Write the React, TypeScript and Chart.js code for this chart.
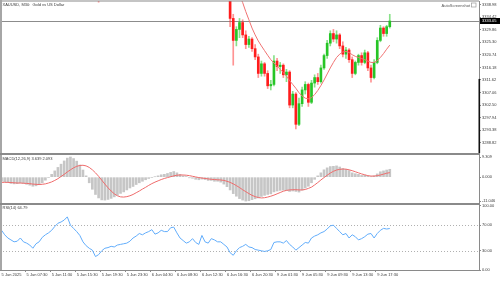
import React, { useEffect, useRef } from 'react';
import { Chart, registerables } from 'chart.js';

Chart.register(...registerables);

const FONT = '"Liberation Sans", Arial, sans-serif';
const TITLE = 'XAUUSD, M30:  Gold vs US Dollar';
const WATERMARK = 'AutoScreenshot';

const X_TICK_LABELS = [
  '5 Jun 2025', '5 Jun 07:30', '5 Jun 11:30', '5 Jun 15:30', '5 Jun 19:30', '5 Jun 23:30',
  '6 Jun 04:30', '6 Jun 08:30', '6 Jun 12:30', '6 Jun 16:30', '6 Jun 20:30',
  '9 Jun 01:30', '9 Jun 05:30', '9 Jun 09:30', '9 Jun 13:30', '9 Jun 17:30',
];
const BARS_PER_TICK = 8;
const SLOT_COUNT = 153;

const OPEN = [
  3374.0, 3372.5, 3370.8, 3372.9, 3371.2, 3368.6, 3369.4, 3366.9, 3367.8, 3364.5,
  3362.3, 3365.1, 3363.0, 3366.2, 3364.7, 3368.4, 3372.1, 3376.3, 3380.9, 3385.2,
  3388.6, 3394.0, 3399.8, 3389.5, 3384.1, 3378.6, 3372.0, 3366.3, 3360.2, 3354.5,
  3350.1, 3345.2, 3344.0, 3348.9, 3351.7, 3350.2, 3353.1, 3351.4, 3354.0, 3356.2,
  3352.3, 3355.1, 3358.4, 3356.0, 3360.3, 3359.1, 3362.0, 3361.2, 3364.5, 3366.3,
  3363.1, 3365.4, 3368.2, 3367.0, 3370.1, 3373.4, 3375.2, 3369.0, 3366.8, 3364.1,
  3366.0, 3363.2, 3365.3, 3362.1, 3364.0, 3366.2, 3363.4, 3360.1, 3362.3, 3358.4,
  3361.0, 3355.8, 3350.2, 3347.1, 3334.0, 3326.0, 3330.0, 3332.5, 3328.0, 3324.5,
  3326.5, 3323.0, 3320.0, 3314.0, 3317.5, 3314.0, 3309.5, 3310.0, 3318.5, 3316.5,
  3317.0, 3313.5, 3314.5, 3302.5, 3306.5, 3295.5, 3303.0, 3308.0, 3310.0, 3303.5,
  3310.5, 3312.5, 3311.0, 3316.0, 3320.5, 3325.0, 3328.5, 3326.5, 3328.0, 3324.0,
  3321.0, 3322.5, 3319.0, 3314.0, 3318.0, 3320.5, 3318.0, 3321.5, 3316.0, 3312.5,
  3318.0, 3326.0, 3330.5, 3328.5, 3331.0,
];
const HIGH = [
  3375.2, 3373.4, 3373.8, 3374.0, 3372.0, 3370.6, 3370.1, 3368.9, 3368.3, 3365.4,
  3366.0, 3365.9, 3367.1, 3367.0, 3369.5, 3373.0, 3377.4, 3382.2, 3386.8, 3390.1,
  3395.7, 3403.4, 3401.2, 3391.0, 3386.3, 3380.0, 3373.8, 3368.1, 3362.0, 3356.4,
  3351.3, 3347.8, 3350.2, 3353.0, 3352.9, 3354.4, 3354.0, 3355.3, 3357.5, 3357.0,
  3356.2, 3359.6, 3359.2, 3361.4, 3361.5, 3363.2, 3363.0, 3365.7, 3367.4, 3367.0,
  3366.5, 3369.3, 3369.1, 3371.2, 3374.6, 3376.9, 3376.0, 3370.2, 3367.6, 3367.1,
  3366.8, 3366.4, 3366.0, 3365.1, 3367.3, 3367.0, 3364.1, 3363.4, 3363.0, 3362.2,
  3375.4, 3357.2, 3352.0, 3348.5, 3335.5, 3331.0, 3334.0, 3333.5, 3329.5, 3327.5,
  3327.0, 3324.5, 3321.0, 3318.5, 3318.0, 3315.0, 3311.5, 3320.5, 3319.5, 3318.0,
  3317.5, 3315.5, 3315.0, 3307.5, 3307.0, 3305.0, 3309.0, 3311.0, 3310.5, 3311.5,
  3313.5, 3314.0, 3317.0, 3321.0, 3326.0, 3329.5, 3330.0, 3329.5, 3328.5, 3325.5,
  3323.5, 3323.0, 3320.0, 3318.5, 3321.0, 3321.5, 3322.5, 3322.0, 3317.0, 3319.0,
  3327.0, 3331.5, 3331.0, 3331.5, 3335.5,
];
const LOW = [
  3371.6, 3369.9, 3370.1, 3370.5, 3367.5, 3367.8, 3365.8, 3366.0, 3363.6, 3361.2,
  3361.5, 3362.2, 3362.5, 3363.8, 3364.0, 3367.6, 3371.3, 3375.5, 3379.7, 3383.9,
  3387.4, 3392.8, 3387.6, 3382.4, 3376.9, 3370.4, 3364.7, 3358.5, 3352.9, 3348.3,
  3343.6, 3339.9, 3343.1, 3347.6, 3348.8, 3349.5, 3350.3, 3350.6, 3353.2, 3351.1,
  3351.5, 3354.3, 3355.0, 3355.2, 3358.0, 3358.3, 3360.1, 3360.5, 3363.6, 3362.0,
  3362.4, 3364.6, 3365.9, 3366.3, 3369.4, 3372.6, 3368.1, 3365.7, 3363.0, 3363.3,
  3362.1, 3362.5, 3361.0, 3361.4, 3363.2, 3362.5, 3359.0, 3359.3, 3357.3, 3357.6,
  3354.6, 3348.9, 3345.8, 3331.0, 3317.0, 3324.0, 3327.0, 3327.0, 3323.0, 3323.5,
  3322.0, 3319.0, 3312.5, 3313.0, 3313.0, 3308.5, 3308.0, 3309.5, 3315.0, 3314.0,
  3312.5, 3311.0, 3301.5, 3301.5, 3293.8, 3295.0, 3302.0, 3306.5, 3302.0, 3303.0,
  3309.0, 3310.0, 3310.5, 3315.5, 3319.5, 3324.0, 3325.5, 3325.0, 3323.0, 3320.0,
  3319.5, 3318.0, 3312.5, 3313.5, 3317.0, 3317.0, 3317.5, 3315.0, 3310.8, 3312.0,
  3317.5, 3325.5, 3327.5, 3327.5, 3330.5,
];
const CLOSE = [
  3372.5, 3370.8, 3372.9, 3371.2, 3368.6, 3369.4, 3366.9, 3367.8, 3364.5, 3362.3,
  3365.1, 3363.0, 3366.2, 3364.7, 3368.4, 3372.1, 3376.3, 3380.9, 3385.2, 3388.6,
  3394.0, 3399.8, 3389.5, 3384.1, 3378.6, 3372.0, 3366.3, 3360.2, 3354.5, 3350.1,
  3345.2, 3344.0, 3348.9, 3351.7, 3350.2, 3353.1, 3351.4, 3354.0, 3356.2, 3352.3,
  3355.1, 3358.4, 3356.0, 3360.3, 3359.1, 3362.0, 3361.2, 3364.5, 3366.3, 3363.1,
  3365.4, 3368.2, 3367.0, 3370.1, 3373.4, 3375.2, 3369.0, 3366.8, 3364.1, 3366.0,
  3363.2, 3365.3, 3362.1, 3364.0, 3366.2, 3363.4, 3360.1, 3362.3, 3358.4, 3361.0,
  3355.8, 3350.2, 3347.1, 3334.0, 3326.0, 3330.0, 3332.5, 3328.0, 3324.5, 3326.5,
  3323.0, 3320.0, 3314.0, 3317.5, 3314.0, 3309.5, 3310.0, 3318.5, 3316.5, 3317.0,
  3313.5, 3314.5, 3302.5, 3306.5, 3295.5, 3303.0, 3308.0, 3310.0, 3303.5, 3310.5,
  3312.5, 3311.0, 3316.0, 3320.5, 3325.0, 3328.5, 3326.5, 3328.0, 3324.0, 3321.0,
  3322.5, 3319.0, 3314.0, 3318.0, 3320.5, 3318.0, 3321.5, 3316.0, 3312.5, 3318.0,
  3326.0, 3330.5, 3328.5, 3331.0, 3333.05,
];
const MA = [
  3377.0, 3376.6, 3376.2, 3375.7, 3375.1, 3374.5, 3373.8, 3373.1, 3372.3, 3371.4,
  3370.7, 3370.0, 3369.5, 3369.0, 3368.8, 3368.9, 3369.3, 3369.9, 3370.8, 3371.8,
  3373.0, 3374.6, 3375.6, 3376.5, 3377.1, 3377.4, 3377.4, 3377.1, 3376.5, 3375.6,
  3374.4, 3373.1, 3372.0, 3370.9, 3369.6, 3368.4, 3367.1, 3365.6, 3364.0, 3362.2,
  3360.0, 3358.0, 3356.2, 3355.0, 3354.2, 3353.8, 3353.8, 3354.2, 3354.8, 3355.5,
  3356.3, 3357.2, 3358.0, 3358.9, 3360.0, 3361.1, 3362.0, 3362.7, 3363.3, 3363.9,
  3364.3, 3364.7, 3365.0, 3365.2, 3365.3, 3365.0, 3364.5, 3364.0, 3363.3, 3362.6,
  3361.6, 3359.8, 3357.0, 3353.2, 3348.8, 3345.2, 3342.3, 3339.8, 3336.5, 3333.5,
  3330.5, 3328.0, 3325.8, 3324.0, 3322.3, 3320.6, 3319.0, 3317.8, 3316.6, 3315.5,
  3314.3, 3313.0, 3311.4, 3310.0, 3308.6, 3307.0, 3305.8, 3305.0, 3304.8, 3305.2,
  3306.3, 3307.8, 3309.6, 3311.6, 3313.8, 3316.0, 3318.0, 3319.8, 3321.0, 3321.8,
  3322.0, 3321.6, 3320.8, 3320.2, 3319.8, 3319.4, 3319.0, 3318.5, 3318.0, 3318.0,
  3318.6, 3319.8, 3321.2, 3322.8, 3324.3,
];
const MACD_MAIN = [
  -1.8, -2.1, -2.5, -2.9, -3.1, -3.0, -2.7, -2.9, -3.3, -3.7,
  -4.2, -4.0, -3.5, -2.6, -1.4, -0.2, 1.3, 2.9, 4.5, 6.0,
  7.5, 8.8, 9.309, 8.6, 7.4, 5.6, 3.3, 0.6, -2.6, -5.6,
  -8.0, -9.6, -10.5, -10.6, -10.3, -9.8, -9.1, -8.3, -7.5, -6.8,
  -5.9, -5.0, -4.3, -3.4, -2.6, -1.9, -1.2, -0.6, -0.2, 0.2,
  0.6, 1.1, 1.3, 1.7, 2.2, 2.6, 2.0, 1.3, 0.6, 0.3,
  -0.3, -0.5, -1.0, -1.2, -0.9, -1.1, -1.5, -1.5, -1.9, -1.9,
  -2.3, -3.2, -4.4, -5.9, -7.6, -8.8, -9.9, -10.6, -11.046, -10.9,
  -10.4, -10.0, -9.6, -8.9, -8.4, -8.0, -7.7, -6.8, -6.4, -6.1,
  -6.0, -6.2, -6.6, -6.4, -6.6, -6.9, -6.0, -5.0, -4.2, -2.6,
  -1.0, 0.6, 2.0, 3.4, 4.3, 4.9, 5.0, 5.2, 4.7, 4.0,
  3.6, 3.0, 2.0, 1.6, 1.3, 0.8, 0.9, 0.5, 0.2, 0.6,
  1.5, 2.5, 2.9, 3.3, 3.639,
];
const MACD_SIGNAL = [
  -2.4, -2.4, -2.4, -2.5, -2.6, -2.7, -2.7, -2.8, -2.9, -3.0,
  -3.2, -3.3, -3.4, -3.3, -3.1, -2.7, -2.2, -1.5, -0.7, 0.3,
  1.3, 2.4, 3.4, 4.3, 5.0, 5.4, 5.5, 5.2, 4.5, 3.4,
  2.0, 0.4, -1.4, -3.2, -4.9, -6.4, -7.7, -8.6, -9.1, -9.2,
  -9.0, -8.6, -8.0, -7.2, -6.4, -5.5, -4.7, -3.8, -3.0, -2.3,
  -1.7, -1.1, -0.6, -0.2, 0.2, 0.6, 0.9, 1.0, 1.0, 0.9,
  0.7, 0.4, 0.1, -0.2, -0.4, -0.6, -0.8, -1.0, -1.1, -1.2,
  -1.3, -1.5, -1.9, -2.4, -3.1, -3.9, -4.8, -5.8, -6.7, -7.6,
  -8.4, -9.0, -9.4, -9.6, -9.5, -9.2, -8.8, -8.3, -7.7, -7.1,
  -6.5, -6.1, -5.9, -5.8, -5.8, -5.9, -5.9, -5.7, -5.2, -4.6,
  -3.6, -2.5, -1.3, -0.2, 0.9, 1.9, 2.7, 3.3, 3.6, 3.75,
  3.7, 3.4, 3.0, 2.5, 2.0, 1.5, 1.1, 0.7, 0.5, 0.5,
  0.7, 1.0, 1.4, 1.8, 2.093,
];
const RSI = [
  62, 55, 50, 47, 44, 45, 50, 44, 42, 39,
  34, 41, 44, 51, 55, 58, 62, 68, 73, 75,
  78, 83, 70, 65, 60, 54, 44, 38, 34, 31,
  21, 24, 30, 34, 35, 37, 36, 39, 40, 41,
  42, 45, 50, 53, 57, 55, 58, 60, 63, 56,
  58, 62, 60, 60, 66, 67, 58, 50, 46, 42,
  44, 49, 43, 40, 54, 44, 42, 49, 47, 44,
  44, 40, 36, 27, 23, 30, 35, 37, 40, 36,
  35, 32, 31, 30, 29, 30, 32, 43, 44, 44,
  42, 46, 40, 36, 31, 35, 39, 43, 42, 50,
  53, 55, 58, 60, 64, 69, 70, 65, 60, 55,
  57, 50, 55, 52, 47, 49, 52, 56, 57, 50,
  57, 62, 65, 64, 64.79,
];

const PRICE_TICKS = [3338.98, 3334.42, 3329.86, 3325.3, 3320.74, 3316.18, 3311.62, 3307.06, 3302.5, 3297.94, 3293.38, 3288.82];
const MACD_TICKS = [9.309, 0, -11.046];
const RSI_TICKS = [100, 70, 30, 0];
const RSI_LEVELS = [70, 30];
const PRICE_MIN = 3284.71;
const PRICE_MAX = 3340.33;
const MACD_MIN = -12.4;
const MACD_MAX = 10.7;
const RSI_MIN = 0;
const RSI_MAX = 103.1;
const AXIS_MARK_FROM = 3312.0;

const BULL = '#26c526';
const BEAR = '#ff1c1c';
const BULL_WICK = 'rgba(40,200,40,0.55)';
const BEAR_WICK = 'rgba(255,40,40,0.5)';
const FRAME = '#8a8a8a';
const TEXT = '#3a3a3a';

const decorPlugin = {
  id: 'mtDecor',
  beforeDatasetsDraw(chart: any) {
    const { ctx, chartArea, scales } = chart;
    ctx.save();
    ctx.lineWidth = 1;
    ctx.strokeStyle = '#b0b0b0';
    ctx.setLineDash([1, 2]);
    RSI_LEVELS.forEach((lv) => {
      const py = Math.round(scales.yRsi.getPixelForValue(lv)) + 0.5;
      ctx.beginPath();
      ctx.moveTo(chartArea.left, py);
      ctx.lineTo(chartArea.right, py);
      ctx.stroke();
    });
    ctx.setLineDash([]);
    const last = CLOSE[CLOSE.length - 1];
    const pp = Math.round(scales.y.getPixelForValue(last)) + 0.5;
    ctx.strokeStyle = '#8c8c8c';
    ctx.beginPath();
    ctx.moveTo(chartArea.left, pp);
    ctx.lineTo(chartArea.right, pp);
    ctx.stroke();
    ctx.restore();
  },
  afterDraw(chart: any) {
    const { ctx, chartArea, scales } = chart;
    const right = chartArea.right;
    ctx.save();
    ctx.fillStyle = FRAME;
    ctx.fillRect(0, chartArea.top - 0.5, right, 1);
    ctx.fillStyle = '#a6a6a6';
    ctx.fillRect(0, 0, 2, chartArea.bottom);
    ctx.fillStyle = FRAME;
    ctx.fillRect(0, scales.y.bottom - 1, right, 2);
    ctx.fillRect(0, scales.yMacd.bottom - 1, right, 2);

    const markTop = scales.y.getPixelForValue(AXIS_MARK_FROM);
    ctx.fillStyle = '#111';
    ctx.fillRect(right - 0.5, markTop, 1.6, scales.y.bottom - 1 - markTop);

    const last = CLOSE[CLOSE.length - 1];
    const pp = Math.round(scales.y.getPixelForValue(last));
    ctx.fillStyle = '#000';
    ctx.fillRect(right + 1, pp - 3, 500 - right - 1, 6);
    ctx.fillStyle = '#fff';
    ctx.font = `4px ${FONT}`;
    ctx.textBaseline = 'middle';
    ctx.textAlign = 'left';
    ctx.fillText(last.toFixed(2), right + 3, pp + 0.3);

    ctx.fillStyle = TEXT;
    ctx.fillText(TITLE, 2.5, 4.5);
    ctx.fillText(
      `MACD(12,26,9) ${MACD_MAIN[MACD_MAIN.length - 1].toFixed(3)} ${MACD_SIGNAL[MACD_SIGNAL.length - 1].toFixed(3)}`,
      2.5,
      scales.yMacd.top + 4.5
    );
    ctx.fillText(`RSI(14) ${RSI[RSI.length - 1].toFixed(2)}`, 2.5, scales.yRsi.top + 3.5);
    ctx.fillStyle = '#555';
    ctx.textAlign = 'right';
    ctx.fillText(WATERMARK, right - 9, 5.5);
    ctx.strokeStyle = '#9a9a9a';
    ctx.lineWidth = 0.7;
    ctx.strokeRect(right - 7.5, 3, 4.5, 4);
    ctx.restore();
  },
};

function yAxis(stackWeight: number, min: number, max: number, ticks: number[], digits: number) {
  return {
    type: 'linear',
    position: 'right',
    stack: 'panes',
    stackWeight,
    min,
    max,
    offset: false,
    grid: { display: true, drawOnChartArea: false, drawTicks: true, tickLength: 2, tickColor: FRAME },
    border: { display: true, color: FRAME, width: 1 },
    ticks: {
      autoSkip: false,
      padding: 1,
      color: TEXT,
      font: { family: FONT, size: 4 },
      callback: (v: any) => Number(v).toFixed(digits),
    },
    afterBuildTicks: (s: any) => {
      s.ticks = ticks.map((value) => ({ value }));
    },
    afterFit: (s: any) => {
      s.width = 21;
      s.paddingTop = 0;
      s.paddingBottom = 0;
    },
  };
}

export default function App() {
  const ref = useRef<HTMLCanvasElement>(null);

  useEffect(() => {
    document.body.style.margin = '0';
    const canvas = ref.current;
    if (!canvas) return;

    const xLabels = Array.from({ length: SLOT_COUNT }, (_, i) =>
      i % BARS_PER_TICK === 0 && X_TICK_LABELS[i / BARS_PER_TICK] ? X_TICK_LABELS[i / BARS_PER_TICK] : ''
    );
    const isBull = OPEN.map((o, i) => CLOSE[i] >= o);

    const chart = new Chart(canvas, {
      type: 'bar',
      data: {
        labels: xLabels,
        datasets: [
          {
            type: 'line',
            label: 'MA',
            data: MA,
            yAxisID: 'y',
            borderColor: '#f07272',
            borderWidth: 1,
            pointRadius: 0,
            tension: 0,
            clip: 0,
          },
          {
            type: 'bar',
            label: 'Body',
            data: OPEN.map((o, i) => [o, CLOSE[i]]),
            yAxisID: 'y',
            backgroundColor: isBull.map((b) => (b ? BULL : BEAR)),
            barThickness: 2,
            grouped: false,
            minBarLength: 1,
            borderWidth: 0,
            clip: 0,
          },
          {
            type: 'bar',
            label: 'Wick',
            data: LOW.map((l, i) => [l, HIGH[i]]),
            yAxisID: 'y',
            backgroundColor: isBull.map((b) => (b ? BULL_WICK : BEAR_WICK)),
            barThickness: 1,
            grouped: false,
            borderWidth: 0,
            clip: 0,
          },
          {
            type: 'line',
            label: 'Signal',
            data: MACD_SIGNAL,
            yAxisID: 'yMacd',
            borderColor: '#ef6b6b',
            borderWidth: 1,
            pointRadius: 0,
            tension: 0,
            clip: 0,
          },
          {
            type: 'bar',
            label: 'MACD',
            data: MACD_MAIN,
            yAxisID: 'yMacd',
            backgroundColor: '#c6c6c6',
            barThickness: 2,
            grouped: false,
            borderWidth: 0,
            clip: 0,
          },
          {
            type: 'line',
            label: 'RSI',
            data: RSI,
            yAxisID: 'yRsi',
            borderColor: '#62adfb',
            borderWidth: 1,
            pointRadius: 0,
            tension: 0,
            clip: 0,
          },
        ] as any,
      },
      options: {
        responsive: false,
        maintainAspectRatio: false,
        animation: false,
        events: [],
        layout: { padding: { top: 1, left: 0, right: 0, bottom: 0 } },
        plugins: {
          legend: { display: false },
          tooltip: { enabled: false },
          title: { display: false },
        },
        scales: {
          x: {
            type: 'category',
            offset: true,
            grid: {
              display: true,
              drawOnChartArea: false,
              drawTicks: true,
              tickLength: 2,
              tickColor: (c: any) => (c.tick && c.tick.label ? FRAME : 'rgba(0,0,0,0)'),
            },
            border: { display: true, color: FRAME, width: 1 },
            ticks: {
              autoSkip: false,
              maxRotation: 0,
              minRotation: 0,
              align: 'start',
              padding: 0,
              color: TEXT,
              font: { family: FONT, size: 4 },
            },
            afterFit: (s: any) => {
              s.height = 11;
              s.paddingLeft = 0;
              s.paddingRight = 0;
            },
          },
          y: yAxis(153, PRICE_MIN, PRICE_MAX, PRICE_TICKS, 2),
          yMacd: yAxis(50, MACD_MIN, MACD_MAX, MACD_TICKS, 3),
          yRsi: yAxis(66, RSI_MIN, RSI_MAX, RSI_TICKS, 2),
        } as any,
      },
      plugins: [decorPlugin],
    } as any);

    return () => chart.destroy();
  }, []);

  return (
    <div style={{ width: 500, height: 281, position: 'relative', background: '#fff' }}>
      <canvas ref={ref} width={500} height={281} style={{ display: 'block', width: 500, height: 281 }} />
    </div>
  );
}
